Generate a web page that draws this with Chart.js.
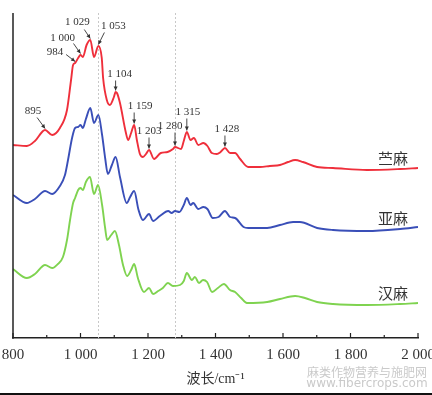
<!DOCTYPE html>
<html><head><meta charset="utf-8">
<script src="https://cdn.jsdelivr.net/npm/chart.js@4.4.1/dist/chart.umd.min.js"></script>
<style>html,body{margin:0;padding:0;background:#fff;overflow:hidden}#wrap{width:432px;height:395px;position:relative}</style>
</head><body><div id="wrap"><canvas id="c" width="432" height="395"></canvas></div>
<script>
// wavenumber (cm^-1) and relative absorbance (offset stacked, arbitrary units)
const ramieX = [800,841,865,895,916,939,960,972,978,984,993,1000,1007,1018,1029,1040,1053,1063,1067,1078,1087,1099,1104,1108,1117,1134,1141,1150,1159,1167,1176,1185,1194,1203,1218,1238,1258,1274,1280,1298,1306,1315,1326,1336,1349,1364,1376,1389,1404,1415,1428,1443,1458,1473,1497,1532,1561,1591,1615,1636,1659,1701,1748,1849,1947,2000];
const ramieY = [193,192,197,208,203,210,228,258,273,275,280,283,281,293,298,281,292,280,260,238,233,241,246,245,235,206,198,205,213,198,184,181,184,188,179,185,186,189,191,189,197,206,198,200,193,195,192,185,184,186,190,185,185,179,171,171,172,173,176,178,176,171,170,168,169,170];
const flaxX = [800,841,865,895,916,939,954,963,975,984,993,1000,1007,1016,1029,1040,1053,1064,1073,1081,1093,1104,1117,1137,1147,1159,1172,1185,1203,1215,1235,1260,1270,1280,1293,1306,1315,1326,1334,1349,1364,1376,1392,1409,1428,1443,1458,1483,1497,1553,1591,1630,1650,1701,1748,1849,1947,2000];
const flaxY = [143,135,139,147,144,152,163,178,200,210,211,213,210,219,230,215,223,203,180,164,173,181,161,135,141,147,128,118,124,117,122,127,125,127,126,133,140,133,135,129,131,129,120,121,127,121,120,111,110,110,113,116,116,110,108,107,109,111];
const hempX = [800,841,865,895,916,933,948,960,969,978,984,993,1000,1007,1016,1028,1040,1052,1064,1073,1079,1091,1102,1114,1126,1138,1150,1159,1170,1188,1203,1215,1230,1244,1259,1274,1295,1306,1315,1330,1339,1351,1363,1375,1390,1407,1425,1443,1458,1476,1493,1553,1591,1636,1665,1701,1748,1849,1947,2000];
const hempY = [69,60,64,73,70,74,81,98,118,135,140,148,150,148,156,161,144,153,133,110,98,103,107,93,73,62,68,74,60,46,50,44,47,50,55,52,53,57,65,58,61,55,58,56,46,50,54,48,46,40,35,36,39,42,40,36,34,33,34,35];
const seriesNames = ['苎麻','亚麻','汉麻'];
const seriesColors = ['#ef2f3b','#3a4fb8','#7fd350'];
const xTickValues = [800,1000,1200,1400,1600,1800,2000];
const peakLabels = ['895','984','1 000','1 029','1 053','1 104','1 159','1 203','1 280','1 315','1 428'];
const peakWavenumbers = [895,984,1000,1029,1053,1104,1159,1203,1280,1315,1428];
const guideLines = [1053,1280];
// label / arrow-tail offsets from arrow tip (pixels)
const peakLabelOffsets = [[-12,-17],[-20,-9],[-18,-15],[-13,-16],[15,-18],[4,-16],[6,-17],[0,-17],[-5,-19],[1,-18],[2,-17]];
const peakTailOffsets = [[-8,-11],[-9,-7],[-7,-10],[-6,-9],[6,-12],[0,-10],[0,-11],[0,-11],[0,-13],[0,-12],[0,-11]];

const xs=[ramieX,flaxX,hempX], ys=[ramieY,flaxY,hempY];
const datasets = seriesNames.map((n,i)=>({
  label:n, data: xs[i].map((x,j)=>({x, y: ys[i][j]})),
  borderColor: seriesColors[i], borderWidth:1.9, pointRadius:0, fill:false,
  cubicInterpolationMode:'monotone'
}));

function fmt(v){ if(v>=1000){const r=v%1000; return Math.floor(v/1000)+' '+String(r).padStart(3,'0');} return String(v); }

const deco = {
  id:'deco',
  beforeDatasetsDraw(chart){
    const {ctx, chartArea:a, scales:{x}} = chart;
    ctx.save();
    ctx.strokeStyle='#c8c8c8'; ctx.lineWidth=1; ctx.setLineDash([2,2]);
    guideLines.forEach(v=>{const px=Math.round(x.getPixelForValue(v))+0.5; ctx.beginPath(); ctx.moveTo(px,a.top); ctx.lineTo(px,a.bottom); ctx.stroke();});
    ctx.restore();
  },
  afterDraw(chart){
    const {ctx, chartArea:a, scales:{x,y}} = chart;
    ctx.save();
    ctx.strokeStyle='#222'; ctx.lineWidth=1.5;
    ctx.beginPath(); ctx.moveTo(a.left,a.top); ctx.lineTo(a.left,a.bottom+0.75); ctx.stroke();
    ctx.lineWidth=1.2;
    x.ticks.forEach(t=>{const px=x.getPixelForValue(t.value); const L=(t.value%200===0)?5:3;
      ctx.beginPath(); ctx.moveTo(px,a.bottom); ctx.lineTo(px,a.bottom-L); ctx.stroke();});
    ctx.fillStyle='#333'; ctx.strokeStyle='#333'; ctx.lineWidth=0.9;
    ctx.font='11px "Liberation Serif", serif'; ctx.textAlign='center'; ctx.textBaseline='middle';
    peakWavenumbers.forEach((w,i)=>{
      const j=ramieX.indexOf(w); const tx=x.getPixelForValue(w), ty=y.getPixelForValue(ramieY[j])-1.5;
      const [tlx,tly]=peakTailOffsets[i]; const sx=tx+tlx, sy=ty+tly;
      ctx.beginPath(); ctx.moveTo(sx,sy); ctx.lineTo(tx,ty); ctx.stroke();
      const ang=Math.atan2(ty-sy,tx-sx), h=4, wd=2;
      ctx.beginPath(); ctx.moveTo(tx,ty);
      ctx.lineTo(tx-h*Math.cos(ang)+wd*Math.sin(ang), ty-h*Math.sin(ang)-wd*Math.cos(ang));
      ctx.lineTo(tx-h*Math.cos(ang)-wd*Math.sin(ang), ty-h*Math.sin(ang)+wd*Math.cos(ang));
      ctx.closePath(); ctx.fill();
      const [lx,ly]=peakLabelOffsets[i];
      ctx.fillText(peakLabels[i], tx+lx, ty+ly);
    });
    ctx.font='15px "Noto Sans CJK SC", sans-serif'; ctx.fillStyle='#333';
    const labW=1926;
    xs.forEach((arr,i)=>{
      let k=0; while(k<arr.length-1 && arr[k+1]<labW) k++;
      const yy=ys[i][k]+(ys[i][k+1]-ys[i][k])*(labW-arr[k])/(arr[k+1]-arr[k]);
      ctx.fillText(seriesNames[i], x.getPixelForValue(labW), y.getPixelForValue(yy)-11);
    });
    ctx.fillStyle='#cacaca';
    ctx.font='12px "Noto Sans CJK SC", sans-serif';
    ctx.fillText('麻类作物营养与施肥网', 367, 372);
    ctx.font='12px "DejaVu Sans", sans-serif';
    ctx.fillText('www.fibercrops.com', 367, 384);
    ctx.fillStyle='#111'; ctx.fillRect(0,393,432,2);
    ctx.restore();
  }
};

new Chart(document.getElementById('c'), {
  type:'line',
  data:{datasets},
  options:{
    responsive:false, animation:false, devicePixelRatio:1,
    layout:{padding:{left:13,right:14,top:13,bottom:0}},
    plugins:{legend:{display:false}, tooltip:{enabled:false}},
    scales:{
      x:{type:'linear', min:800, max:2000,
        afterBuildTicks(s){ s.ticks=[]; for(let v=800; v<=2000; v+=100) s.ticks.push({value:v}); },
        afterFit(s){ s.paddingLeft=0; s.paddingRight=0; s.height=57; },
        grid:{display:false, drawTicks:false},
        border:{display:true,color:'#222',width:1.5},
        ticks:{autoSkip:false, maxRotation:0, padding:8, color:'#333',
          font:{family:'"Liberation Serif", serif', size:15},
          callback:(v)=> xTickValues.includes(v)? fmt(v):''},
        title:{display:true, text:'波长/cm⁻¹', color:'#333',
          font:{family:'"Liberation Serif", "Noto Sans CJK SC", serif', size:14}, padding:{top:2,bottom:7}}
      },
      y:{display:false, min:0, max:325}
    }
  },
  plugins:[deco]
});
</script></body></html>
